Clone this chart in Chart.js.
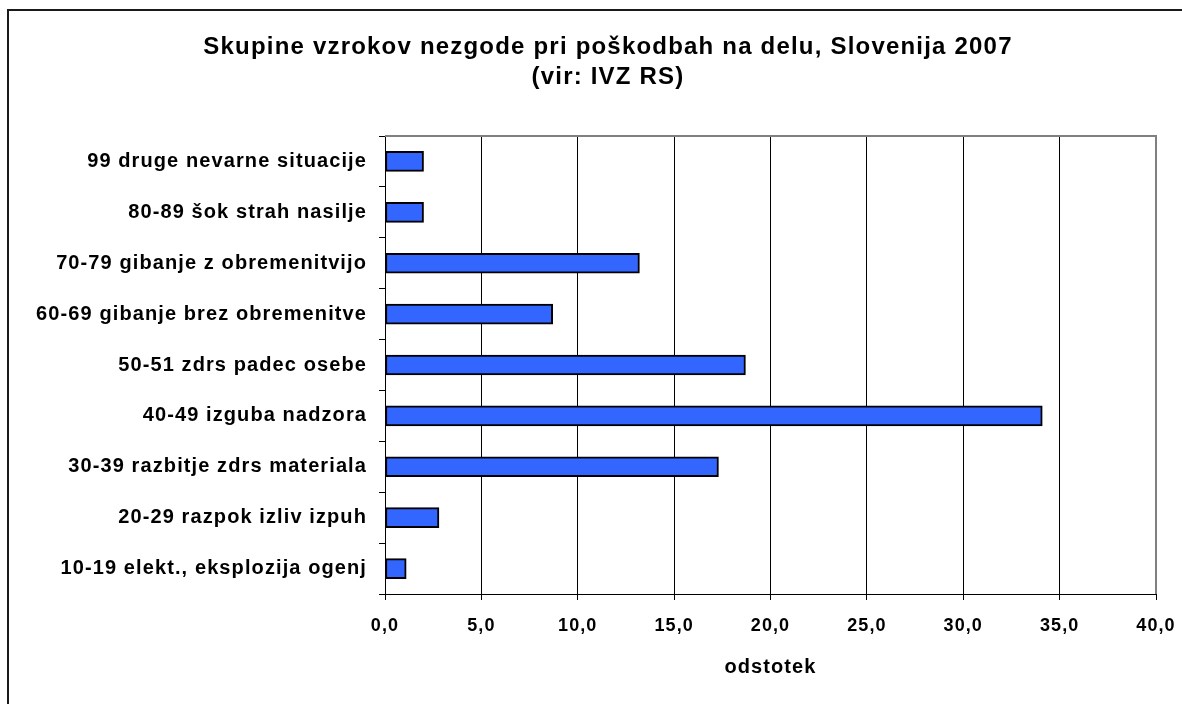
<!DOCTYPE html>
<html>
<head>
<meta charset="utf-8">
<script src="https://cdn.jsdelivr.net/npm/chart.js@4.4.1/dist/chart.umd.min.js"></script>
<style>
html,body{margin:0;padding:0;background:#fff;}
canvas{display:block;}
</style>
</head>
<body>
<canvas id="c" width="1182" height="704"></canvas>
<script>
const titleLines = ["Skupine vzrokov nezgode pri poškodbah na delu, Slovenija 2007", "(vir: IVZ RS)"];
const categories = [
  "10-19 elekt., eksplozija ogenj",
  "20-29 razpok izliv izpuh",
  "30-39 razbitje zdrs materiala",
  "40-49 izguba nadzora",
  "50-51 zdrs padec osebe",
  "60-69 gibanje brez obremenitve",
  "70-79 gibanje z obremenitvijo",
  "80-89 šok strah nasilje",
  "99 druge nevarne situacije"
];
const values = [1.1, 2.8, 17.3, 34.1, 18.7, 8.7, 13.2, 2.0, 2.0];
const xTickLabels = ["0,0", "5,0", "10,0", "15,0", "20,0", "25,0", "30,0", "35,0", "40,0"];
const xAxisTitle = "odstotek";

const FONT = "'Liberation Sans', Arial, sans-serif";

const decor = {
  id: 'decor',
  beforeDraw(chart) {
    const ctx = chart.ctx;
    ctx.fillStyle = '#fff';
    ctx.fillRect(0, 0, chart.width, chart.height);
    ctx.letterSpacing = '1.1px';
  },
  beforeDatasetsDraw(chart) {
    const {ctx, chartArea: a} = chart;
    ctx.save();
    ctx.strokeStyle = '#808080';
    ctx.lineWidth = 2;
    ctx.beginPath();
    ctx.moveTo(a.left, a.top);
    ctx.lineTo(a.right, a.top);
    ctx.lineTo(a.right, a.bottom);
    ctx.stroke();
    ctx.restore();
  },
  afterDraw(chart) {
    const ctx = chart.ctx;
    ctx.save();
    ctx.strokeStyle = '#1a1a1a';
    ctx.lineWidth = 2;
    ctx.strokeRect(8, 10, 1190, 710);
    ctx.fillStyle = '#000';
    ctx.font = "bold 24px " + FONT;
    ctx.textAlign = 'center';
    ctx.textBaseline = 'alphabetic';
    ctx.letterSpacing = '1.2px';
    ctx.fillText(titleLines[0], 608, 54);
    ctx.fillText(titleLines[1], 608, 84);
    ctx.restore();
  }
};

new Chart(document.getElementById('c'), {
  type: 'bar',
  data: {
    labels: categories,
    datasets: [{
      data: values,
      backgroundColor: '#3366FF',
      borderColor: '#000000',
      borderWidth: 2,
      borderSkipped: false,
      barThickness: 20
    }]
  },
  plugins: [decor],
  options: {
    indexAxis: 'y',
    responsive: false,
    devicePixelRatio: 1,
    animation: false,
    layout: { padding: { top: 136, left: 0, right: 26, bottom: 0 } },
    plugins: { legend: { display: false }, title: { display: false }, tooltip: { enabled: false } },
    scales: {
      x: {
        min: 0, max: 40,
        afterFit(s) { s.height = 110; s.paddingRight = 0; s.paddingLeft = 0; },
        ticks: {
          stepSize: 5,
          color: '#000',
          padding: 15,
          font: { family: FONT, size: 18, weight: 'bold' },
          callback: (v, i) => xTickLabels[i]
        },
        grid: { color: '#000', lineWidth: 1, tickLength: 6, drawTicks: true },
        border: { display: true, color: '#000', width: 1 },
        title: {
          display: true, text: xAxisTitle, color: '#000',
          font: { family: FONT, size: 20, weight: 'bold' },
          padding: { top: 0, bottom: 25 }
        }
      },
      y: {
        reverse: true,
        afterFit(s) { s.width = 385; s.paddingTop = 0; s.paddingBottom = 0; },
        ticks: {
          color: '#000',
          padding: 12,
          font: { family: FONT, size: 20, weight: 'bold' }
        },
        grid: { drawOnChartArea: false, drawTicks: true, tickLength: 6, color: '#000', offset: true },
        border: { display: true, color: '#000', width: 1 }
      }
    }
  }
});
</script>
</body>
</html>
